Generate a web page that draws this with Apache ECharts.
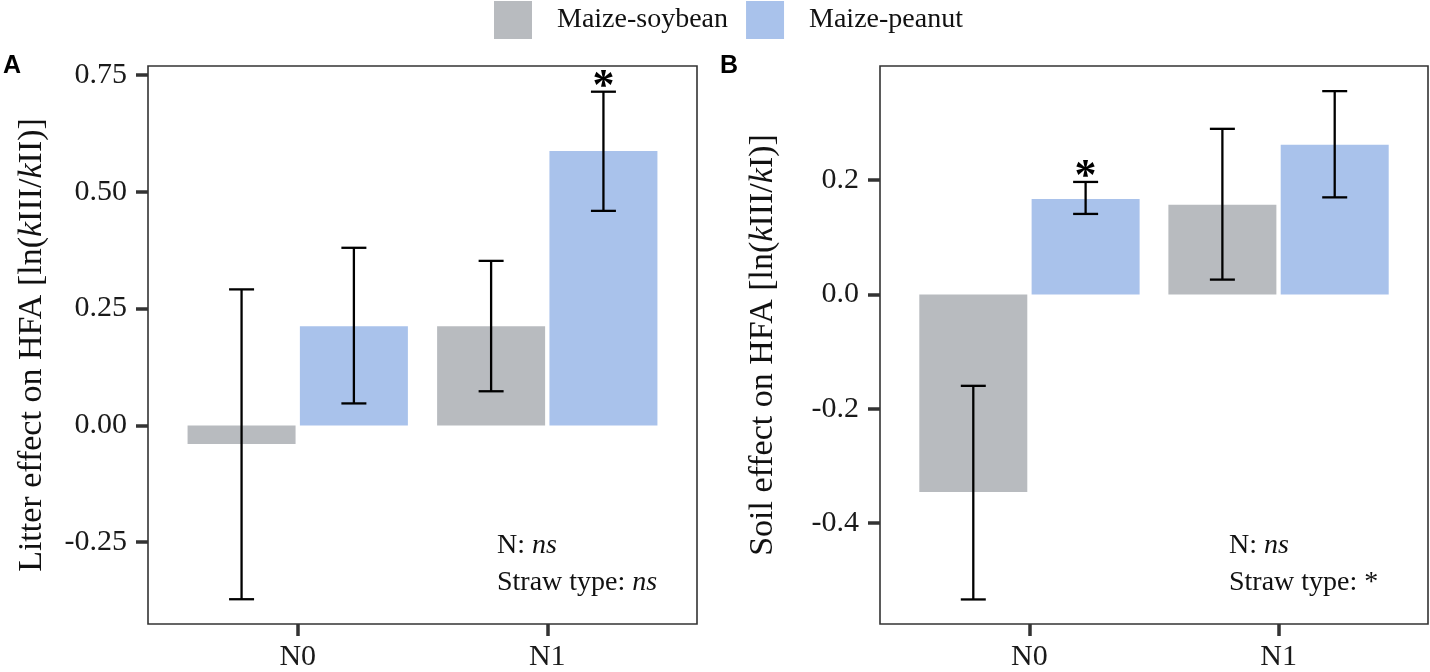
<!DOCTYPE html>
<html>
<head>
<meta charset="utf-8">
<script src="https://cdn.jsdelivr.net/npm/echarts@6.0.0/dist/echarts.min.js"></script>
<style>
  html, body { margin: 0; padding: 0; background: #ffffff; }
  #chart { width: 1430px; height: 672px; }
</style>
</head>
<body>
<div id="chart"></div>
<script>
// ---------- data ----------
const categories = ['N0', 'N1'];
const seriesNames = ['Maize-soybean', 'Maize-peanut'];

// Panel A: Litter effect
const litterSoy   = [-0.040, 0.212];
const litterSoyLo = [-0.372, 0.073];
const litterSoyHi = [0.291, 0.352];
const litterSoySig = ['', ''];
const litterPea   = [0.212, 0.587];
const litterPeaLo = [0.047, 0.459];
const litterPeaHi = [0.380, 0.714];
const litterPeaSig = ['', '*'];

// Panel B: Soil effect
const soilSoy   = [-0.346, 0.157];
const soilSoyLo = [-0.534, 0.026];
const soilSoyHi = [-0.160, 0.290];
const soilSoySig = ['', ''];
const soilPea   = [0.167, 0.262];
const soilPeaLo = [0.141, 0.170];
const soilPeaHi = [0.197, 0.356];
const soilPeaSig = ['*', ''];

const litterTicks = [-0.25, 0, 0.25, 0.5, 0.75];
const soilTicks = [-0.4, -0.2, 0, 0.2];

const noteA = ['{n|N: }{i|ns}', '{n|Straw type: }{i|ns}'];
const noteB = ['{n|N: }{i|ns}', '{n|Straw type: *}'];

// ---------- style ----------
const SERIF = '"Liberation Serif", "Times New Roman", serif';
const colSoy = '#B8BBBF';
const colPea = '#A9C2EB';
const frame = '#333333';
const BAR_W = 108;
const BAR_GAP = '4%';
const OFFSET = (BAR_W + BAR_W * 0.04) / 2;
const TICK_FS = 30;
const TITLE_FS = 34;

const chart = echarts.init(document.getElementById('chart'));

function xAxisCfg(gridIndex) {
  return {
    type: 'value', gridIndex, min: 0.4, max: 2.6,
    axisLine: { show: false, onZero: false },
    splitLine: { show: false },
    axisTick: { show: true, length: 12, lineStyle: { color: frame, width: 3.5 }, customValues: [1, 2] },
    axisLabel: {
      customValues: [1, 2], margin: 18,
      formatter: v => categories[Math.round(v) - 1],
      fontFamily: SERIF, fontSize: 30, color: '#1a1a1a'
    }
  };
}
function yAxisCfg(gridIndex, min, max, ticks, digits, nameRich, gap) {
  return {
    type: 'value', gridIndex, min, max,
    axisLine: { show: false, onZero: false },
    splitLine: { show: false },
    axisTick: { show: true, length: 12, lineStyle: { color: frame, width: 3.5 }, customValues: ticks },
    axisLabel: {
      customValues: ticks, margin: 21,
      formatter: v => v.toFixed(digits),
      fontFamily: SERIF, fontSize: TICK_FS, color: '#1a1a1a'
    },
    name: nameRich, nameLocation: 'middle', nameGap: gap, nameRotate: 90,
    nameTextStyle: {
      fontFamily: SERIF, fontSize: TITLE_FS, color: '#111',
      rich: {
        n: { fontFamily: SERIF, fontSize: TITLE_FS, color: '#111' },
        i: { fontFamily: SERIF, fontSize: TITLE_FS, color: '#111', fontStyle: 'italic' }
      }
    }
  };
}

function barSeries(name, vals, idx) {
  return {
    type: 'bar', name, xAxisIndex: idx, yAxisIndex: idx,
    barWidth: BAR_W, barGap: BAR_GAP,
    itemStyle: { color: name === seriesNames[0] ? colSoy : colPea },
    data: vals.map((v, i) => [i + 1, v]),
    emphasis: { disabled: true },
    z: 2
  };
}
function errSeries(lo, hi, sig, idx, side) {
  return {
    type: 'custom', xAxisIndex: idx, yAxisIndex: idx, z: 5,
    name: 'err' + idx + side,
    data: lo.map((l, i) => [i + 1, l, hi[i]]),
    renderItem: (params, api) => {
      const x = api.value(0);
      const pLo = api.coord([x, api.value(1)]);
      const pHi = api.coord([x, api.value(2)]);
      const cx = pLo[0] + side * OFFSET;
      const cap = 12.5;
      const st = { stroke: '#000', lineWidth: 2.3 };
      const children = [
        { type: 'line', shape: { x1: cx, y1: pLo[1], x2: cx, y2: pHi[1] }, style: st },
        { type: 'line', shape: { x1: cx - cap, y1: pLo[1], x2: cx + cap, y2: pLo[1] }, style: st },
        { type: 'line', shape: { x1: cx - cap, y1: pHi[1], x2: cx + cap, y2: pHi[1] }, style: st }
      ];
      const s = sig[params.dataIndex];
      if (s) {
        children.push({
          type: 'text',
          style: {
            x: cx, y: pHi[1] + 18, text: s, align: 'center', verticalAlign: 'bottom',
            font: 'bold 44px ' + SERIF, fill: '#000'
          }
        });
      }
      return { type: 'group', children };
    }
  };
}

function noteGraphic(x, y0, lines) {
  return lines.map((t, k) => ({
    type: 'text', left: x, top: y0 + k * 37,
    style: {
      text: t,
      rich: {
        n: { fontFamily: SERIF, fontSize: 28, fill: '#111' },
        i: { fontFamily: SERIF, fontSize: 28, fill: '#111', fontStyle: 'italic' }
      }
    }
  }));
}

const option = {
  backgroundColor: '#ffffff',
  animation: false,
  legend: {
    data: seriesNames, top: 1, left: 494, padding: 0,
    icon: 'rect', itemWidth: 38, itemHeight: 38, itemGap: 18,
    selectedMode: false,
    textStyle: { fontFamily: SERIF, fontSize: 28, color: '#111', padding: [0, 0, 0, 20] }
  },
  grid: [
    { left: 148, top: 66, width: 549, height: 562, show: true, borderColor: frame, borderWidth: 1.6, backgroundColor: 'transparent', containLabel: false },
    { left: 880, top: 66, width: 548, height: 562, show: true, borderColor: frame, borderWidth: 1.6, backgroundColor: 'transparent', containLabel: false }
  ],
  xAxis: [xAxisCfg(0), xAxisCfg(1)],
  yAxis: [
    yAxisCfg(0, -0.425, 0.769, litterTicks, 2,
      '{n|Litter effect on HFA [ln(}{i|k}{n|III/}{i|k}{n|II)]}', 99),
    yAxisCfg(1, -0.577, 0.400, soilTicks, 1,
      '{n|Soil effect on HFA [ln(}{i|k}{n|III/}{i|k}{n|I)]}', 100)
  ],
  series: [
    barSeries(seriesNames[0], litterSoy, 0),
    barSeries(seriesNames[1], litterPea, 0),
    barSeries(seriesNames[0], soilSoy, 1),
    barSeries(seriesNames[1], soilPea, 1),
    errSeries(litterSoyLo, litterSoyHi, litterSoySig, 0, -1),
    errSeries(litterPeaLo, litterPeaHi, litterPeaSig, 0, 1),
    errSeries(soilSoyLo, soilSoyHi, soilSoySig, 1, -1),
    errSeries(soilPeaLo, soilPeaHi, soilPeaSig, 1, 1)
  ],
  graphic: [
    { type: 'text', left: 3, top: 54, style: { text: 'A', font: 'bold 25px "Liberation Sans", Arial, sans-serif', fill: '#000' } },
    { type: 'text', left: 720, top: 54, style: { text: 'B', font: 'bold 25px "Liberation Sans", Arial, sans-serif', fill: '#000' } },
    ...noteGraphic(497, 532, noteA),
    ...noteGraphic(1229, 532, noteB)
  ]
};
chart.setOption(option);
</script>
</body>
</html>
